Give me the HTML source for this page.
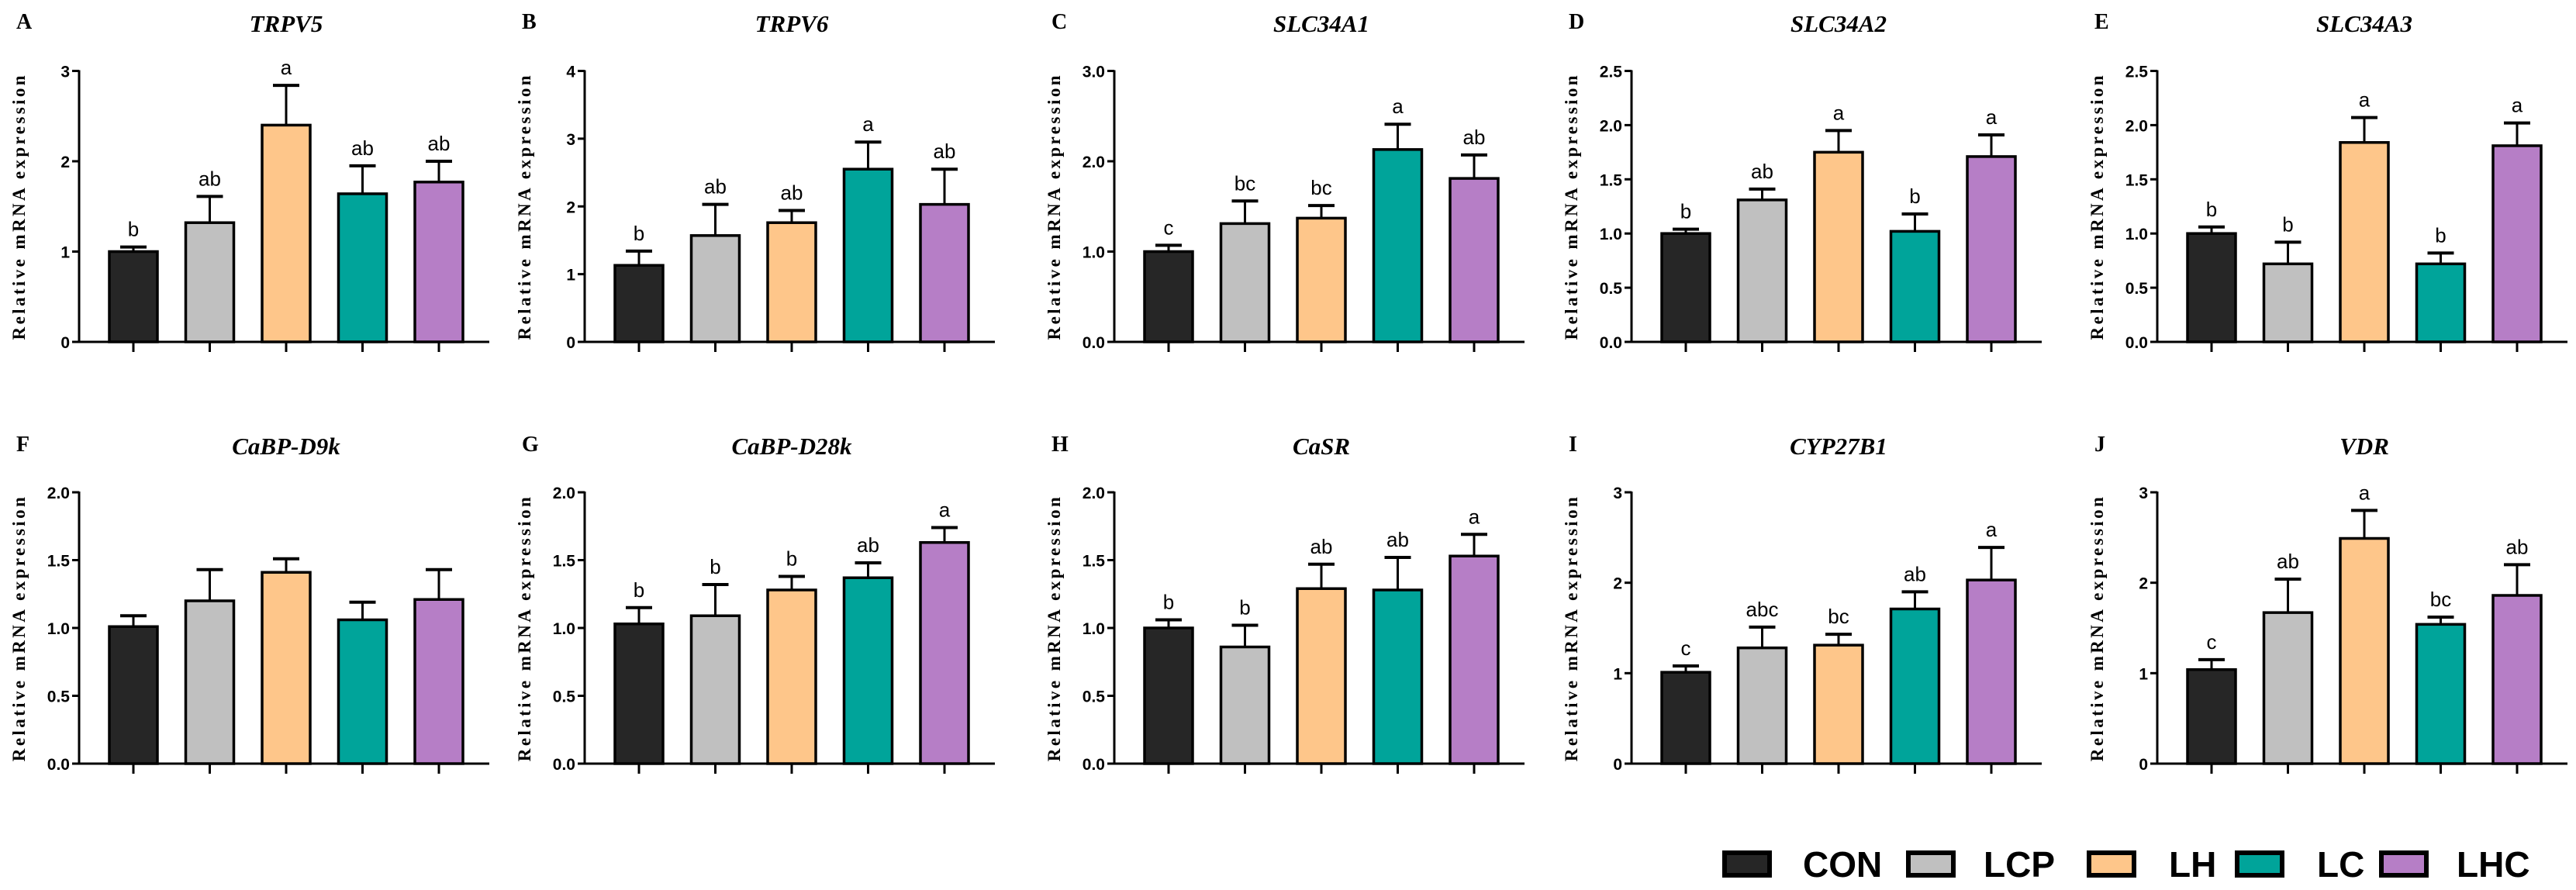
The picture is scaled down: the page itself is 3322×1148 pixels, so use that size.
<!DOCTYPE html>
<html><head><meta charset="utf-8">
<style>
html,body{margin:0;padding:0;background:#fff;}
svg{display:block;}
.tick{font-family:"Liberation Sans",sans-serif;font-weight:bold;font-size:21px;}
.ttl{font-family:"Liberation Serif",serif;font-weight:bold;font-style:italic;font-size:31px;}
.plet{font-family:"Liberation Serif",serif;font-weight:bold;font-size:28px;}
.ytl{font-family:"Liberation Serif",serif;font-weight:bold;font-size:23px;letter-spacing:3.4px;}
.sig{font-family:"Liberation Sans",sans-serif;font-size:26px;}
.leg{font-family:"Liberation Sans",sans-serif;font-weight:bold;font-size:46px;}
</style></head>
<body>
<svg id="fig" width="3322" height="1148" viewBox="0 0 3322 1148" xmlns="http://www.w3.org/2000/svg"></svg>
<script>
const groups=["CON","LCP","LH","LC","LHC"];
const colors=["#262626","#c0c0c0","#fec68a","#00a49a","#b67ec6"];
const genes=["TRPV5","TRPV6","SLC34A1","SLC34A2","SLC34A3","CaBP-D9k","CaBP-D28k","CaSR","CYP27B1","VDR"];
const panelLetters=["A","B","C","D","E","F","G","H","I","J"];
const yMax=[3,4,3,2.5,2.5,2,2,2,3,3];
const yStep=[1,1,1,0.5,0.5,0.5,0.5,0.5,1,1];
const yDecimals=[0,0,1,1,1,1,1,1,0,0];
const means=[
[1.0,1.32,2.4,1.64,1.77],
[1.13,1.57,1.76,2.55,2.03],
[1.0,1.31,1.37,2.13,1.81],
[1.0,1.31,1.75,1.02,1.71],
[1.0,0.72,1.84,0.72,1.81],
[1.01,1.2,1.41,1.06,1.21],
[1.03,1.09,1.28,1.37,1.63],
[1.0,0.86,1.29,1.28,1.53],
[1.01,1.28,1.31,1.71,2.03],
[1.04,1.67,2.49,1.54,1.86]];
const errTops=[
[1.05,1.61,2.84,1.95,2.0],
[1.34,2.03,1.94,2.95,2.55],
[1.07,1.56,1.51,2.41,2.07],
[1.04,1.41,1.95,1.18,1.91],
[1.06,0.92,2.07,0.82,2.02],
[1.09,1.43,1.51,1.19,1.43],
[1.15,1.32,1.38,1.48,1.74],
[1.06,1.02,1.47,1.52,1.69],
[1.08,1.51,1.43,1.9,2.39],
[1.15,2.04,2.8,1.62,2.2]];
const sigLetters=[
["b","ab","a","ab","ab"],
["b","ab","ab","a","ab"],
["c","bc","bc","a","ab"],
["b","ab","a","b","a"],
["b","b","a","b","a"],
["","","","",""],
["b","b","b","ab","a"],
["b","b","ab","ab","a"],
["c","abc","bc","ab","a"],
["c","ab","a","bc","ab"]];

const NS="http://www.w3.org/2000/svg";
const svg=document.getElementById("fig");
function mk(tag,attrs,parent){const e=document.createElementNS(NS,tag);for(const k in attrs)e.setAttribute(k,attrs[k]);(parent||svg).appendChild(e);return e;}
const axisXs=[102,754,1437,2104,2782];
const rowTop=[91.5,635];const rowZero=[441,985];
const titleY=[41,586];
for(let p=0;p<10;p++){
  const r=Math.floor(p/5),c=p%5;
  const ax=axisXs[c],top=rowTop[r],zero=rowZero[r];
  const g=mk("g",{});
  
  
  const yS=v=>zero-(v/yMax[p])*(zero-top);
  const xS=i=>ax+70+i*98.5;
  let t=mk("text",{x:ax-81,y:titleY[r]-4,class:"plet"},g);t.textContent=panelLetters[p];
  
  t=mk("text",{x:ax+267,y:titleY[r],class:"ttl","text-anchor":"middle"},g);t.textContent=genes[p];
  
  t=mk("text",{x:0,y:0,class:"ytl","text-anchor":"middle",transform:`translate(${ax-70},${(top+zero)/2}) rotate(-90)`},g);t.textContent="Relative mRNA expression";
  
  for(let v=0;v<=yMax[p]+1e-9;v+=yStep[p]){
    const y=yS(v);
    mk("line",{x1:ax-9,x2:ax,y1:y,y2:y,stroke:"#000","stroke-width":3},g);
    t=mk("text",{x:ax-12,y:y+8,class:"tick","text-anchor":"end"},g);t.textContent=v.toFixed(yDecimals[p]);
    
  }
  for(let i=0;i<5;i++){
    const x=xS(i),bw=62,ym=yS(means[p][i]),ye=yS(errTops[p][i]);
    mk("line",{x1:x,x2:x,y1:ye,y2:ym,stroke:"#000","stroke-width":3},g);
    mk("line",{x1:x-17,x2:x+17,y1:ye,y2:ye,stroke:"#000","stroke-width":4},g);
    const b=mk("rect",{x:x-bw/2,y:ym,width:bw,height:zero-ym,fill:colors[i],stroke:"#000","stroke-width":3.5},g);
    
    mk("line",{x1:x,x2:x,y1:zero,y2:zero+13,stroke:"#000","stroke-width":3},g);
    if(sigLetters[p][i]){
      t=mk("text",{x:x,y:ye-14,class:"sig","text-anchor":"middle"},g);t.textContent=sigLetters[p][i];
      
    }
  }
  mk("line",{x1:ax,x2:ax,y1:top-1,y2:zero+1.5,stroke:"#000","stroke-width":3},g);
  mk("line",{x1:ax,x2:ax+529,y1:zero,y2:zero,stroke:"#000","stroke-width":3},g);
}
const legBoxX=[2221,2458,2691,2882,3068];
const legTextX=[2325,2558,2797,2988,3168];
for(let i=0;i<5;i++){
  const r=mk("rect",{x:legBoxX[i]+3,y:1100,width:58,height:29,fill:colors[i],stroke:"#000","stroke-width":6});
  
  const t=mk("text",{x:legTextX[i],y:1131,class:"leg"});t.textContent=groups[i];
  
}
</script>
</body></html>
